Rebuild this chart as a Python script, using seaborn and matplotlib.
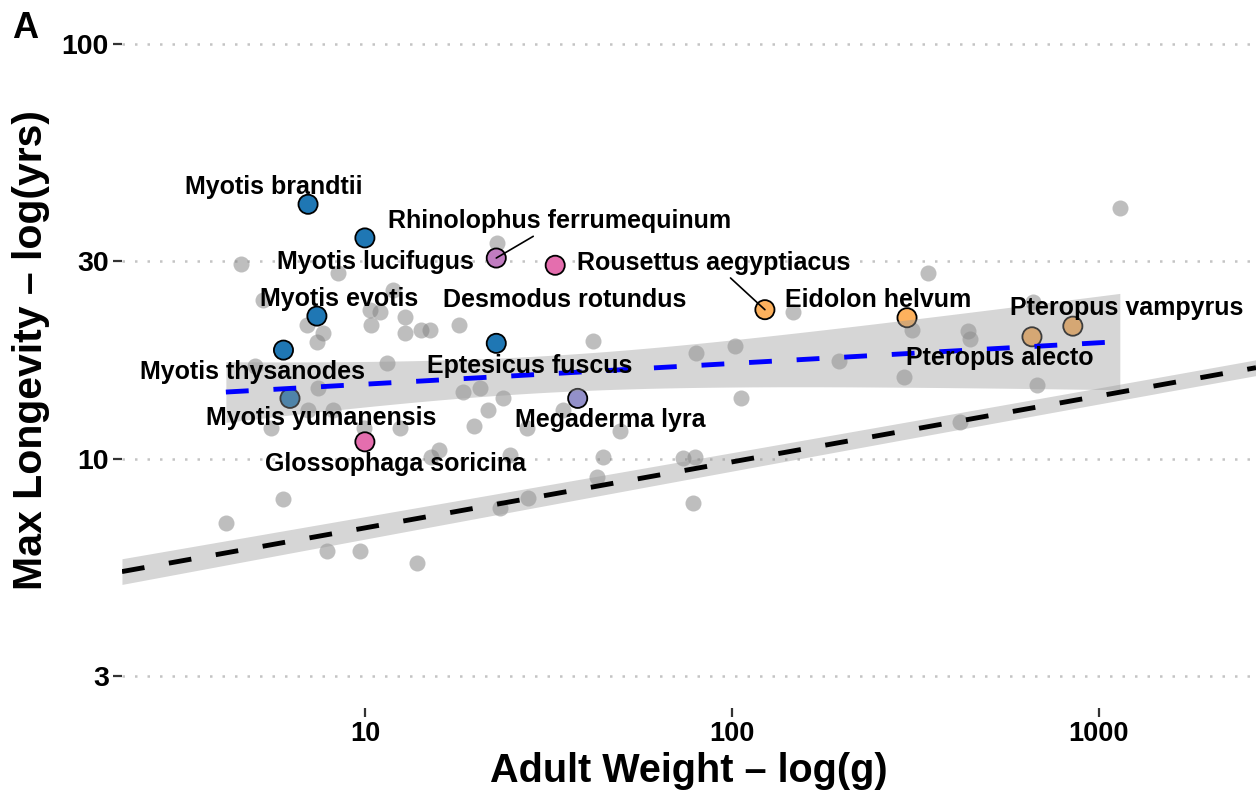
import numpy as np
import pandas as pd
import matplotlib
matplotlib.use("Agg")
import matplotlib.pyplot as plt
from matplotlib.ticker import NullLocator
import seaborn as sns

# ---------------- data ----------------
# other bat species (grey points): adult weight (g), max longevity (yrs)
other_weight = [4.59, 4.18, 5.98, 7.88, 9.69, 13.9, 5.01, 5.27, 8.44, 11.9, 10.3, 11.0,
                6.95, 7.69, 7.40, 10.4, 12.9, 12.9, 14.2, 15.0, 18.0, 22.9, 11.5, 7.45,
                18.5, 20.6, 23.8, 21.6, 19.8, 7.0, 8.18, 5.55, 9.94, 12.5, 27.6, 15.1,
                15.9, 24.8, 44.6, 73.5, 79.3, 42.9, 27.8, 23.3, 78.3, 49.5, 34.7, 41.8,
                79.8, 102, 106, 147, 196, 294, 309, 342, 440, 446, 418, 678, 661, 1140]
other_longevity = [29.5, 7.0, 8.0, 6.0, 6.0, 5.61, 16.8, 24.2, 28.1, 25.5, 22.9, 22.6,
                   21.0, 20.1, 19.1, 21.0, 22.0, 20.1, 20.5, 20.5, 21.0, 33.1, 17.0, 14.8,
                   14.5, 14.8, 14.0, 13.1, 12.0, 13.1, 13.1, 11.9, 11.9, 11.9, 11.9, 10.1,
                   10.5, 10.2, 10.1, 10.05, 10.1, 9.05, 8.05, 7.62, 7.83, 11.7, 13.1, 19.2,
                   18.0, 18.7, 14.0, 22.6, 17.2, 15.8, 20.5, 28.1, 20.3, 19.5, 12.3, 15.1,
                   23.9, 40.3]

# highlighted species
species = ["Myotis brandtii", "Myotis lucifugus", "Rhinolophus ferrumequinum",
           "Desmodus rotundus", "Rousettus aegyptiacus", "Myotis evotis",
           "Eptesicus fuscus", "Myotis thysanodes", "Myotis yumanensis",
           "Megaderma lyra", "Glossophaga soricina", "Eidolon helvum",
           "Pteropus alecto", "Pteropus vampyrus"]
species_weight = [7.0, 10.0, 22.8, 33.0, 123, 7.4, 22.8, 6.0, 6.25, 38.0, 10.0, 300, 657, 849]
species_longevity = [41.1, 34.1, 30.5, 29.3, 22.9, 22.1, 19.0, 18.3, 14.0, 14.0, 11.0, 21.9, 19.7, 20.9]
species_family = ["Vespertilionidae", "Vespertilionidae", "Rhinolophidae", "Phyllostomidae",
                  "Pteropodidae", "Vespertilionidae", "Vespertilionidae", "Vespertilionidae",
                  "Vespertilionidae", "Megadermatidae", "Phyllostomidae", "Pteropodidae",
                  "Pteropodidae", "Pteropodidae"]
family_colors = {"Vespertilionidae": "#1f77b4", "Rhinolophidae": "#c07cc0",
                 "Phyllostomidae": "#e46eae", "Pteropodidae": "#fdb15d",
                 "Megadermatidae": "#9390c9"}

# mammal-wide allometric reference line (log10 longevity ~ log10 weight)
mammal_intercept = 0.675
mammal_slope = 0.159
mammal_ci_min = 0.019      # minimal CI half-width (log10 units)
mammal_ci_center = 3.5     # log10 weight of minimal CI
mammal_ci_scale = 2.46

x_ticks = [10, 100, 1000]
y_ticks = [3, 10, 30, 100]

# label placement (pixel offsets of text baseline-centre from point) -- layout only
label_dx = [-34, 11, 63, 9, -51, 22, 33, -31, 31, 33, 31, -29, -32, 54]
label_dy = [10, -31, 30, -42, 40, 10, -30, -29, -27, -29, -29, 11, -28, 11]
label_leader = [False, False, True, False, True, False, False, False, False, False,
                False, False, False, False]

# ---------------- plot ----------------
sns.set_theme(style="white")
plt.rcParams['font.family'] = ['Liberation Sans', 'DejaVu Sans']

fig = plt.figure(figsize=(12.56, 7.97), dpi=100)
ax = fig.add_axes([0.0971, 0.1122, 0.9029, 0.8721])
ax.set_xscale('log')
ax.set_yscale('log')

others = pd.DataFrame({'weight': other_weight, 'longevity': other_longevity})
sp = pd.DataFrame({'species': species, 'weight': species_weight,
                   'longevity': species_longevity, 'family': species_family})

sns.scatterplot(data=others, x='weight', y='longevity', color='#7f7f7f', alpha=0.5,
                s=133, linewidth=0, ax=ax, zorder=2, legend=False)
sns.scatterplot(data=sp, x='weight', y='longevity', hue='family', palette=family_colors,
                s=190, edgecolor='black', linewidth=1.3, ax=ax, zorder=3, legend=False)

# bat regression (lm on log-log, 95% CI)
lx = np.log10(np.concatenate([other_weight, species_weight]))
ly = np.log10(np.concatenate([other_longevity, species_longevity]))
n = len(lx)
slope, intercept = np.polyfit(lx, ly, 1)
resid = ly - (intercept + slope * lx)
s_err = np.sqrt(np.sum(resid ** 2) / (n - 2))
sxx = np.sum((lx - lx.mean()) ** 2)
t_crit = 1.993
xs = np.linspace(lx.min(), lx.max(), 200)
fit = intercept + slope * xs
hw = t_crit * s_err * np.sqrt(1.0 / n + (xs - lx.mean()) ** 2 / sxx)
ax.fill_between(10 ** xs, 10 ** (fit - hw), 10 ** (fit + hw), color='#999999',
                alpha=0.4, lw=0, zorder=4)
ax.plot(10 ** xs, 10 ** fit, color='#0000ff', lw=3.5, dashes=(4.7, 5.1), zorder=5)

# mammal reference line
xlim = (2.178, 2679)
ylim = (2.518, 119.1)
xm = np.linspace(np.log10(xlim[0]), np.log10(xlim[1]), 200)
fm = mammal_intercept + mammal_slope * xm
hm = mammal_ci_min * np.sqrt(1 + ((xm - mammal_ci_center) / mammal_ci_scale) ** 2)
ax.fill_between(10 ** xm, 10 ** (fm - hm), 10 ** (fm + hm), color='#999999',
                alpha=0.4, lw=0, zorder=4)
ax.plot(10 ** xm, 10 ** fm, color='black', lw=3.5, dashes=(4.7, 5.1), zorder=5)

# labels
for name, w, l, dx, dy, lead in zip(species, species_weight, species_longevity,
                                     label_dx, label_dy, label_leader):
    kw = {}
    if lead:
        kw['arrowprops'] = dict(arrowstyle='-', color='black', lw=1.2,
                                shrinkA=0, shrinkB=0)
    ax.annotate(name, xy=(w, l), xytext=(dx, dy), textcoords='offset pixels',
                ha='center', va='baseline', fontsize=18, fontweight='bold',
                color='black', zorder=6, **kw)

# axes styling
ax.set_xlim(*xlim)
ax.set_ylim(*ylim)
ax.set_xticks(x_ticks)
ax.set_xticklabels([str(t) for t in x_ticks], fontweight='bold', fontsize=19.5)
ax.set_yticks(y_ticks)
ax.set_yticklabels([str(t) for t in y_ticks], fontweight='bold', fontsize=20.5)
ax.xaxis.set_minor_locator(NullLocator())
ax.yaxis.set_minor_locator(NullLocator())
ax.tick_params(axis='both', which='major', length=6.5, width=1.6, color='#333333',
               labelcolor='black', pad=3, bottom=True, left=True)
for s in ax.spines.values():
    s.set_visible(False)
ax.grid(False)
ax.yaxis.grid(True, color='#c4c4c4', lw=1.8, linestyle=(0, (1, 4)))
ax.set_axisbelow(True)

ax.set_xlabel('Adult Weight – log(g)', fontsize=28.5, fontweight='bold', labelpad=4,
              color='black')
ax.set_ylabel('Max Longevity – log(yrs)', fontsize=29.5, fontweight='bold',
              color='black')
ax.yaxis.set_label_coords(-0.0635, 0.5145)

fig.text(0.0095, 1 - 38 / 797, 'A', fontsize=26, fontweight='bold', va='baseline',
         color='black')

fig.savefig('out.png', dpi=100)
